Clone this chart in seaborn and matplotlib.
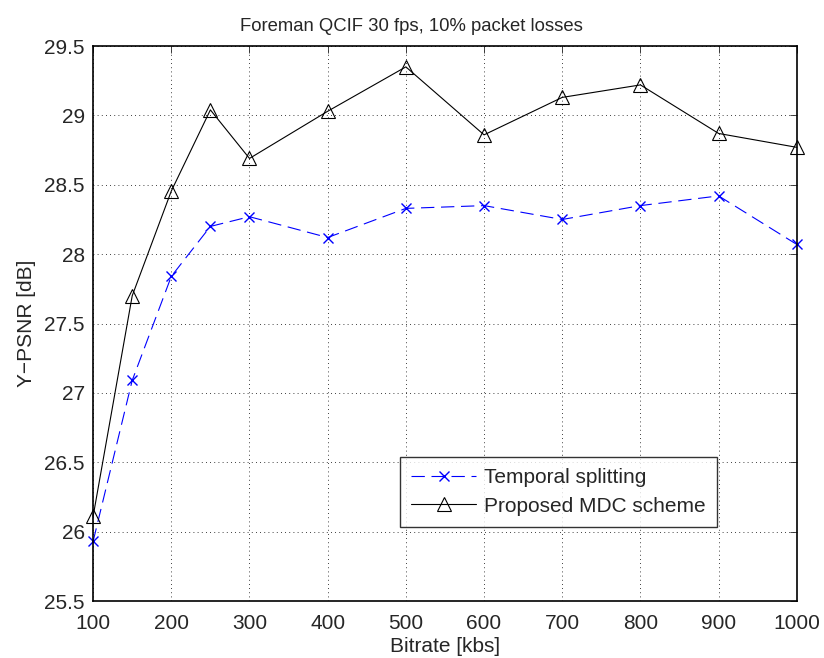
import numpy as np
import pandas as pd
import seaborn as sns
import matplotlib.pyplot as plt

# bitrate points (kbs)
bitrate = [100, 150, 200, 250, 300, 400, 500, 600, 700, 800, 900, 1000]
# Y-PSNR values [dB]
temporal = [25.93, 27.09, 27.84, 28.20, 28.27, 28.12, 28.33, 28.35, 28.25, 28.35, 28.42, 28.07]
proposed = [26.11, 27.70, 28.455, 29.04, 28.69, 29.03, 29.35, 28.86, 29.13, 29.22, 28.87, 28.77]

xticks = list(range(100, 1001, 100))
yticks = [25.5, 26, 26.5, 27, 27.5, 28, 28.5, 29, 29.5]

df = pd.DataFrame({"bitrate": bitrate, "temporal": temporal, "proposed": proposed})

sns.set_style("white")
plt.rcParams['font.family'] = ['Liberation Sans', 'DejaVu Sans']

fig = plt.figure(figsize=(8.24, 6.58), dpi=100)
ax = fig.add_axes([0.113, 0.0866, 0.854, 0.8434])

sns.lineplot(data=df, x="bitrate", y="temporal", ax=ax, color="blue", lw=0.8,
             marker="x", markersize=7, markeredgewidth=1, markeredgecolor="blue",
             label="Temporal splitting", clip_on=False)
ax.lines[-1].set_dashes((12, 6))
sns.lineplot(data=df, x="bitrate", y="proposed", ax=ax, color="black", lw=0.8,
             marker="^", markersize=10, markerfacecolor="none", markeredgecolor="black",
             markeredgewidth=0.8, label="Proposed MDC scheme", clip_on=False)

ax.set_xlim(100, 1000)
ax.set_ylim(25.5, 29.5)
ax.set_xticks(xticks)
ax.set_yticks(yticks)
ax.set_yticklabels([f"{v:g}" for v in yticks])
ax.grid(True, color="black", linestyle=(0, (1, 4)), linewidth=0.6)
ax.tick_params(direction="in", top=True, right=True, length=5, width=0.6,
               labelsize=15, pad=6)
ax.tick_params(axis="x", pad=9)
for s in ax.spines.values():
    s.set_color("black")
    s.set_linewidth(1.2)

ax.set_xlabel("Bitrate [kbs]", fontsize=15, labelpad=3)
ax.set_ylabel("Y\u2212PSNR [dB]", fontsize=15, labelpad=6)
# title centred on the figure, like the original
ax.set_title("Foreman QCIF 30 fps, 10% packet losses", fontsize=13.3, pad=11, x=0.453)

leg = ax.legend(loc="lower right", bbox_to_anchor=(0.887, 0.133), fontsize=15,
                frameon=True, fancybox=False, edgecolor="black", borderpad=0.55,
                handlelength=3.1, handletextpad=0.4, labelspacing=0.45, borderaxespad=0)
leg.get_frame().set_linewidth(1.0)

fig.savefig("out.png", dpi=100)
